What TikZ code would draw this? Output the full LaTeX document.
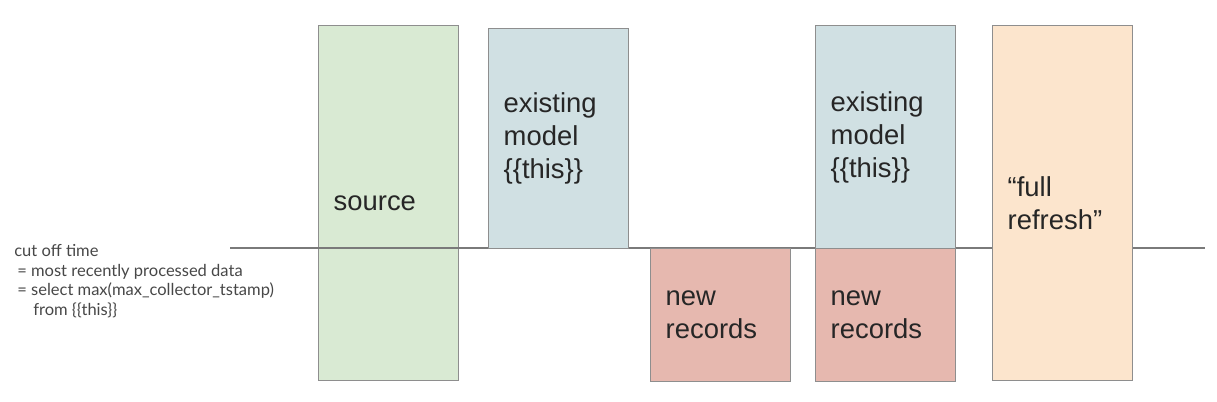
\documentclass[tikz,border=0pt]{standalone}
\usepackage{fontspec}
\setmainfont{Liberation Sans}
\newfontfamily\notefont{Lato}
\definecolor{VertSource}{HTML}{D9EAD3}
\definecolor{BleuModele}{HTML}{D0E0E3}
\definecolor{RougeNouveau}{HTML}{E6B8AF}
\definecolor{OrangeRefresh}{HTML}{FCE5CD}
\definecolor{GrisBord}{HTML}{8E8E8E}
\definecolor{GrisLigne}{HTML}{7A7A7A}
\definecolor{GrisTexte}{HTML}{262626}
\tikzset{
	bloc/.style={shape=rectangle, draw=GrisBord, line width=0.8pt, anchor=north west,
		text width=2.2cm, inner xsep=0.3cm, align=left, text=GrisTexte,
		font=\fontsize{15.6}{18.8}\selectfont},
	haut/.style={bloc, minimum height=7.1cm},
	moyen/.style={bloc, minimum height=4.4cm},
	bas/.style={bloc, minimum height=2.66cm},
	note/.style={anchor=north west, inner sep=0pt, align=left, text=GrisTexte!85,
		font=\notefont\fontsize{9.4}{11.2}\selectfont},
	ligne/.style={draw=GrisLigne, line width=0.8pt}
}
\begin{document}
\begin{tikzpicture}[x=0.02cm, y=-0.02cm]
	\useasboundingbox (0,0) rectangle (1217,402);
	\node[haut, fill=VertSource] (source) at (318,25) {source};
	% cut off time
	\coordinate (debut) at (230,248);
	\coordinate (fin) at (1205,248);
	\draw[ligne] (debut) -- (fin);
	\node[moyen, fill=BleuModele] (modele1) at (488,28) {existing\\model\\\{\{this\}\}};
	\node[bas, fill=RougeNouveau] (nouveau1) at (650,248) {new\\records};
	\node[moyen, minimum height=4.46cm, fill=BleuModele] (modele2) at (815,25) {existing\\model\\\{\{this\}\}};
	\node[bas, fill=RougeNouveau] (nouveau2) at (815,248) {new\\records};
	\node[haut, fill=OrangeRefresh] (refresh) at (992,25) {\char"201C full\\refresh\char"201D};
	\node[note] (coupure) at (14,244) {cut off time\\
		\hspace{0.06cm}= most recently processed data\\
		\hspace{0.06cm}= select max(max\_collector\_tstamp)\\
		\hspace{0.38cm}from \{\{this\}\}};
\end{tikzpicture}
\end{document}
